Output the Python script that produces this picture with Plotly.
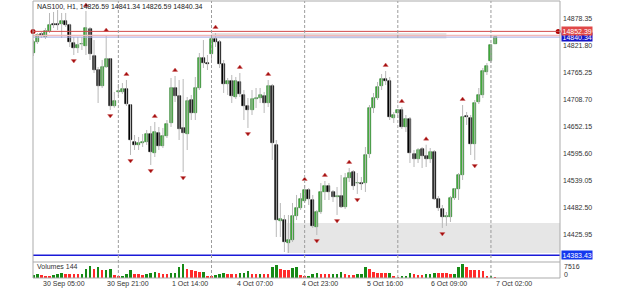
import plotly.graph_objects as go

title_text = "NAS100, H1, 14826.59 14841.34 14826.59 14840.34"

opens = [14807.1, 14830.2, 14846.9, 14840.6, 14853.2, 14867.8, 14867.8, 14867.8, 14874.1, 14865.8,
         14828.1, 14817.6, 14825.0, 14821.8, 14857.4, 14800.8, 14771.5, 14738.0, 14777.8, 14794.6,
         14696.0, 14725.5, 14725.5, 14731.7, 14698.2, 14620.8, 14614.5, 14618.7, 14620.8, 14637.5,
         14597.7, 14639.6, 14612.4, 14633.3, 14660.5, 14733.8, 14717.1, 14650.1, 14637.5, 14708.7,
         14681.5, 14733.8, 14796.7, 14786.2, 14805.0, 14836.4, 14830.2, 14784.1, 14742.2, 14748.5,
         14715.0, 14746.4, 14719.2, 14696.1, 14687.8, 14710.8, 14712.9, 14717.1, 14702.4, 14738.0,
         14614.5, 14455.3, 14457.4, 14409.3, 14415.5, 14465.8, 14482.5, 14497.2, 14520.2, 14499.3,
         14442.8, 14474.2, 14516.1, 14528.6, 14516.1, 14506.6, 14507.7, 14484.6, 14545.4, 14557.9,
         14534.0, 14534.9, 14534.9, 14595.6, 14692.0, 14712.9, 14738.0, 14752.7, 14748.5, 14671.0,
         14681.5, 14687.8, 14652.2, 14668.9, 14595.6, 14585.2, 14606.1, 14591.4, 14585.2, 14599.8,
         14501.4, 14480.5, 14463.7, 14463.7, 14503.5, 14522.3, 14551.7, 14675.2, 14671.0, 14616.6,
         14704.5, 14719.2, 14767.3, 14790.4, 14826.59]
highs = [14834.3, 14849.0, 14851.1, 14859.5, 14890.9, 14893.0, 14897.2, 14890.9, 14890.9, 14868.5,
         14840.6, 14840.6, 14840.6, 14895.1, 14861.6, 14834.3, 14777.8, 14792.5, 14842.7, 14796.7,
         14725.5, 14742.2, 14744.3, 14750.6, 14700.3, 14635.4, 14631.2, 14637.5, 14645.9, 14654.3,
         14662.6, 14652.2, 14650.1, 14666.8, 14754.8, 14759.0, 14750.6, 14752.7, 14715.0, 14719.2,
         14756.9, 14807.1, 14834.3, 14802.9, 14844.8, 14849.0, 14834.3, 14792.5, 14754.8, 14761.1,
         14756.9, 14765.2, 14729.6, 14712.9, 14729.6, 14733.8, 14733.8, 14725.5, 14750.6, 14742.2,
         14624.9, 14493.0, 14467.9, 14467.9, 14493.0, 14509.8, 14514.0, 14530.7, 14524.4, 14509.8,
         14478.4, 14534.9, 14539.1, 14534.9, 14520.2, 14526.5, 14551.7, 14555.8, 14566.3, 14562.0,
         14555.8, 14547.5, 14610.3, 14698.2, 14723.4, 14746.4, 14763.1, 14769.4, 14756.9, 14683.6,
         14689.0, 14694.0, 14677.3, 14673.1, 14604.0, 14608.2, 14610.3, 14615.0, 14608.2, 14604.0,
         14507.7, 14488.8, 14474.2, 14507.7, 14524.4, 14555.8, 14698.2, 14683.6, 14677.3, 14708.7,
         14733.8, 14775.7, 14786.2, 14826.0, 14841.34]
lows = [14800.8, 14826.0, 14838.5, 14836.4, 14849.0, 14859.5, 14855.3, 14838.5, 14861.6, 14819.7,
        14802.9, 14807.1, 14813.4, 14802.9, 14792.5, 14765.2, 14702.4, 14733.8, 14775.7, 14687.8,
        14692.5, 14717.1, 14721.3, 14696.1, 14593.5, 14604.0, 14604.0, 14610.3, 14614.5, 14572.6,
        14589.3, 14604.0, 14608.2, 14629.1, 14652.2, 14704.5, 14624.9, 14557.9, 14604.0, 14666.8,
        14666.8, 14729.6, 14775.7, 14771.5, 14786.2, 14819.7, 14775.7, 14723.4, 14719.2, 14702.4,
        14710.8, 14715.0, 14666.8, 14650.1, 14677.3, 14692.0, 14702.4, 14681.5, 14694.0, 14583.1,
        14421.8, 14421.8, 14390.4, 14388.3, 14411.4, 14457.4, 14478.4, 14493.0, 14488.8, 14440.7,
        14426.0, 14470.0, 14499.3, 14499.3, 14495.1, 14467.9, 14482.5, 14480.5, 14537.0, 14520.2,
        14511.9, 14520.2, 14516.1, 14587.3, 14681.5, 14708.7, 14729.6, 14740.0, 14666.8, 14660.5,
        14671.0, 14648.0, 14641.7, 14576.8, 14568.4, 14576.8, 14566.3, 14568.4, 14576.8, 14499.3,
        14476.3, 14440.7, 14444.9, 14453.2, 14499.3, 14499.3, 14541.2, 14656.4, 14593.5, 14583.1,
        14700.3, 14712.9, 14761.1, 14786.2, 14826.59]
closes = [14830.2, 14844.8, 14842.7, 14853.2, 14865.8, 14865.8, 14865.8, 14874.1, 14865.8, 14830.2,
          14817.6, 14823.9, 14826.0, 14859.5, 14805.0, 14771.5, 14738.0, 14777.8, 14794.6, 14696.1,
          14706.6, 14726.5, 14731.7, 14700.3, 14624.9, 14614.5, 14618.7, 14620.8, 14637.5, 14599.8,
          14641.7, 14612.4, 14633.3, 14658.4, 14733.8, 14717.1, 14648.0, 14639.6, 14706.6, 14681.5,
          14733.8, 14796.7, 14786.2, 14784.1, 14836.4, 14830.2, 14784.1, 14742.2, 14748.5, 14717.1,
          14748.5, 14721.3, 14696.1, 14687.8, 14710.8, 14712.9, 14719.2, 14702.4, 14738.0, 14618.7,
          14457.4, 14459.5, 14411.4, 14415.5, 14465.8, 14482.5, 14501.4, 14520.2, 14501.4, 14444.9,
          14474.2, 14516.1, 14528.6, 14516.1, 14505.6, 14507.7, 14484.6, 14545.4, 14555.8, 14528.6,
          14534.9, 14533.8, 14593.5, 14692.0, 14712.9, 14735.9, 14752.7, 14748.5, 14673.1, 14677.3,
          14687.8, 14652.2, 14668.9, 14597.7, 14585.2, 14604.0, 14591.4, 14585.2, 14599.8, 14501.4,
          14482.5, 14463.7, 14464.8, 14503.5, 14522.3, 14551.7, 14673.1, 14673.1, 14616.6, 14702.4,
          14719.2, 14769.4, 14779.9, 14823.9, 14840.34]
volumes = [1650, 2260, 1650, 1220, 1040, 2020, 2440, 3240, 2440, 2420,
           2400, 2380, 2450, 5680, 7150, 5680, 6720, 4900, 5000, 5700,
           1650, 1220, 1300, 2260, 4700, 2630, 2260, 1650, 2260, 3240,
           3670, 3050, 2260, 2200, 3240, 3300, 6720, 8370, 5680, 4700,
           4280, 3670, 3750, 1300, 1200, 1650, 2630, 3240, 2630, 2440,
           2400, 3050, 3240, 4280, 2630, 2260, 2630, 2260, 2200, 6720,
           7760, 5680, 5070, 5000, 6110, 6520, 1650, 1220, 1400, 2630,
           3240, 2630, 2260, 2200, 2630, 2700, 3670, 2260, 2020, 1950,
           2260, 2630, 6720, 5300, 3670, 3240, 3050, 3000, 3240, 800,
           600, 1000, 1500, 3200, 2630, 2020, 1650, 2260, 2630, 3240,
           3200, 3050, 3000, 2630, 2700, 6720, 8740, 6720, 4700, 4650,
           4600, 4550, 1220, 1300, 144]

up_fractal_bars = [13, 18, 23, 30, 35, 45, 51, 58, 67, 72, 78, 87, 91, 97, 106]
down_fractal_bars = [10, 19, 24, 29, 37, 53, 70, 75, 80, 101, 109]

time_label_bars = [2, 18, 34, 50, 66, 82, 98, 114]
time_labels = ["30 Sep 05:00", "30 Sep 21:00", "1 Oct 14:00", "4 Oct 07:00",
               "4 Oct 23:00", "5 Oct 16:00", "6 Oct 09:00", "7 Oct 02:00"]
day_separator_bars = [21, 44, 67, 90, 113]

price_ticks = [14878.35, 14821.80, 14765.25, 14708.70, 14652.15,
               14595.60, 14539.05, 14482.50, 14425.95]

level_red = 14852.39
ask_price = 14843.5
bid_price = 14840.34
level_blue = 14383.43
volume_scale_label = 7516
last_volume = 144

zone_upper = dict(x0=44, x1=102, lo=14837.5, hi=14849.0)
zone_lower = dict(x0=62.6, x1=140, lo=14388.3, hi=14451.1)

n = len(opens)
idx = list(range(n))
FONT = "Liberation Sans, Arial, sans-serif"

XD = [33 / 625, 560 / 625]
def py(px):
    return 1 - px / 289

fig = go.Figure()

# wicks
wx, wy = [], []
for i in idx:
    wx += [i, i, None]
    wy += [lows[i], highs[i], None]
fig.add_trace(go.Scatter(x=wx, y=wy, mode="lines", line=dict(color="#b8b8b8", width=1),
                         hoverinfo="skip", xaxis="x", yaxis="y"))

# bodies
bx_up, bb_up, bh_up, bx_dn, bb_dn, bh_dn = [], [], [], [], [], []
for i in idx:
    o, c = opens[i], closes[i]
    h = max(abs(c - o), 1.6)
    if c >= o:
        bx_up.append(i); bb_up.append(min(o, c)); bh_up.append(h)
    else:
        bx_dn.append(i); bb_dn.append(min(o, c)); bh_dn.append(h)
fig.add_trace(go.Bar(x=bx_up, y=bh_up, base=bb_up, width=0.74,
                     marker=dict(color="#44b23c", line=dict(color="#1f7020", width=0.6)),
                     xaxis="x", yaxis="y"))
fig.add_trace(go.Bar(x=bx_dn, y=bh_dn, base=bb_dn, width=0.74,
                     marker=dict(color="#000000", line=dict(color="#000000", width=0.6)),
                     xaxis="x", yaxis="y"))

# fractals
fig.add_trace(go.Scatter(x=up_fractal_bars, y=[highs[i] + 12 for i in up_fractal_bars],
                         mode="markers", marker=dict(symbol="triangle-up", size=4.5, color="#a30c0c",
                                                     line=dict(color="#d06060", width=0.5)),
                         xaxis="x", yaxis="y"))
fig.add_trace(go.Scatter(x=down_fractal_bars, y=[lows[i] - 12 for i in down_fractal_bars],
                         mode="markers", marker=dict(symbol="triangle-down", size=4.5, color="#a30c0c",
                                                     line=dict(color="#d06060", width=0.5)),
                         xaxis="x", yaxis="y"))

# red level endpoints
fig.add_trace(go.Scatter(x=[-0.07, 129.6], y=[level_red, level_red], mode="markers",
                         marker=dict(size=5, color="#b00000"), cliponaxis=False,
                         xaxis="x", yaxis="y"))

# volumes
vcolors = []
for i in idx:
    if i == 0 or volumes[i] > volumes[i - 1]:
        vcolors.append("#168a16")
    else:
        vcolors.append("#ff2a2a")
fig.add_trace(go.Bar(x=idx, y=volumes, width=0.62, marker=dict(color=vcolors, line=dict(width=0)),
                     xaxis="x", yaxis="y2"))

shapes = []
shapes.append(dict(type="rect", xref="x", yref="y", x0=zone_lower["x0"], x1=zone_lower["x1"],
                   y0=zone_lower["lo"], y1=zone_lower["hi"], fillcolor="#e6e6e6",
                   line=dict(width=0), layer="below"))
shapes.append(dict(type="rect", xref="x", yref="y", x0=zone_upper["x0"], x1=zone_upper["x1"],
                   y0=zone_upper["lo"], y1=zone_upper["hi"], fillcolor="#e3e3e3",
                   line=dict(width=0), layer="below"))
for val, col, w in [(level_red, "#d24a4a", 1), (ask_price, "#f3b9b9", 1.5),
                    (bid_price, "#a8b0e8", 1), (level_blue, "#1a1ad8", 1.5)]:
    shapes.append(dict(type="line", xref="paper", yref="y", x0=XD[0], x1=XD[1], y0=val, y1=val,
                       line=dict(color=col, width=w)))
for b in day_separator_bars:
    shapes.append(dict(type="line", xref="x", yref="paper", x0=b, x1=b, y0=py(278), y1=py(1),
                       line=dict(color="#9c9c9c", width=1, dash="3px,2px")))
shapes.append(dict(type="rect", xref="paper", yref="paper", x0=XD[0], x1=XD[1], y0=py(278), y1=py(1),
                   line=dict(color="#ababab", width=1), fillcolor="rgba(0,0,0,0)"))
shapes.append(dict(type="line", xref="paper", yref="paper", x0=XD[0], x1=XD[1], y0=py(262), y1=py(262),
                   line=dict(color="#ababab", width=1)))

annotations = []
annotations.append(dict(text=title_text, xref="paper", yref="paper", x=35 / 625, y=py(6.5),
                        xanchor="left", yanchor="middle", showarrow=False,
                        font=dict(family=FONT, size=7, color="#1a1a1a")))
for b, t in zip(time_label_bars, time_labels):
    annotations.append(dict(text=t, xref="x", yref="paper", x=b - 0.2, y=py(283.5),
                            xanchor="left", yanchor="middle", showarrow=False,
                            font=dict(family=FONT, size=7, color="#333333")))
annotations.append(dict(text=f"Volumes {last_volume}", xref="paper", yref="paper", x=35 / 625, y=py(266),
                        xanchor="left", yanchor="middle", showarrow=False,
                        font=dict(family=FONT, size=7, color="#333333")))
annotations.append(dict(text=str(volume_scale_label), xref="paper", yref="paper", x=562 / 625, y=py(266),
                        xanchor="left", yanchor="middle", showarrow=False,
                        font=dict(family=FONT, size=7, color="#333333")))
annotations.append(dict(text="0", xref="paper", yref="paper", x=562 / 625, y=py(274.5),
                        xanchor="left", yanchor="middle", showarrow=False,
                        font=dict(family=FONT, size=7, color="#333333")))
for val, bg in [(bid_price, "#1414c8"), (level_blue, "#1438ee"), (level_red, "#e04848")]:
    annotations.append(dict(text=f"{val:.2f}", xref="paper", yref="y", x=561 / 625, y=val,
                            xanchor="left", yanchor="middle", showarrow=False, bgcolor=bg,
                            borderpad=0.5, font=dict(family=FONT, size=7, color="#ffffff")))

fig.update_layout(
    width=625, height=289, margin=dict(l=0, r=0, t=0, b=0),
    paper_bgcolor="#ffffff", plot_bgcolor="#ffffff", showlegend=False,
    barmode="overlay", bargap=0,
    xaxis=dict(domain=XD, range=[-0.074, 130.05], showgrid=False, zeroline=False,
               showticklabels=False, showline=False, fixedrange=True),
    yaxis=dict(domain=[py(259), py(1)], range=[14375.75, 14916.0], side="right",
               tickvals=price_ticks, ticktext=[f"{v:.2f}" for v in price_ticks],
               tickfont=dict(family=FONT, size=7, color="#333333"), ticks="",
               ticklabelstandoff=2, showgrid=False, zeroline=False, showline=False),
    yaxis2=dict(domain=[py(278), py(262)], range=[0, 9800], anchor="x", showgrid=False,
                zeroline=False, showticklabels=False, showline=False),
    shapes=shapes, annotations=annotations,
)

fig.write_html("out.html")
